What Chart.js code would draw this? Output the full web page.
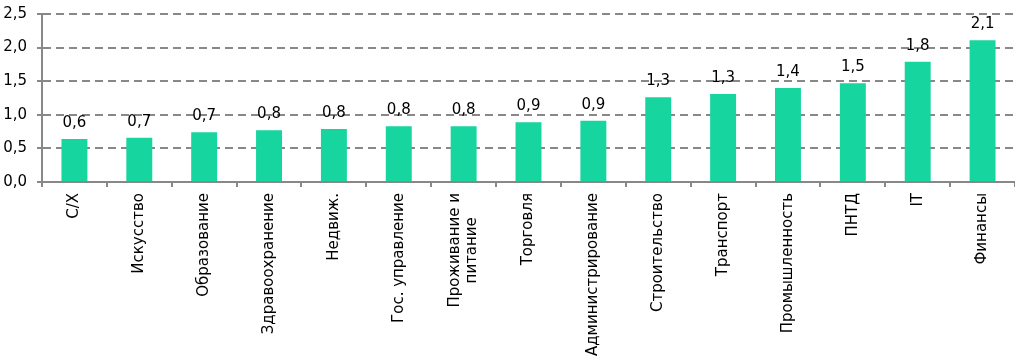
<!DOCTYPE html>
<html lang="ru">
<head>
  <meta charset="UTF-8">
  <title>Отрасли</title>
  <script src="https://cdn.jsdelivr.net/npm/chart.js"></script>
  <style>
    html, body { margin: 0; padding: 0; background: #fff; }
    #box { width: 1015px; height: 362px; }
  </style>
</head>
<body>
  <div id="box"><canvas id="chart"></canvas></div>

  <script>
    // отрасли (подписи по оси X)
    const categories = [
      'С/Х', 'Искусство', 'Образование', 'Здравоохранение', 'Недвиж.',
      'Гос. управление', ['Проживание и', 'питание'], 'Торговля', 'Администрирование',
      'Строительство', 'Транспорт', 'Промышленность', 'ПНТД', 'IT', 'Финансы'
    ];
    const values = [0.64, 0.66, 0.74, 0.77, 0.79, 0.83, 0.83, 0.89, 0.91, 1.26, 1.31, 1.40, 1.47, 1.79, 2.11];
    const yTicks = [0, 0.5, 1.0, 1.5, 2.0, 2.5];

    const FONT = 'DejaVu Sans';
    const fmt = v => v.toFixed(1).replace('.', ',');

    // подписи значений над столбцами + повернутые подписи категорий
    const labelsPlugin = {
      id: 'labels',
      afterDatasetsDraw(chart) {
        const ctx = chart.ctx;
        const meta = chart.getDatasetMeta(0);
        ctx.save();
        ctx.fillStyle = '#000';
        ctx.font = '15px "' + FONT + '"';
        ctx.textAlign = 'center';
        ctx.textBaseline = 'alphabetic';
        meta.data.forEach((bar, i) => {
          ctx.fillText(fmt(values[i]), bar.x, bar.y - 12);
        });
        ctx.restore();

        const xs = chart.scales.x;
        const top = xs.top + 11;
        ctx.save();
        ctx.fillStyle = '#000';
        ctx.font = '15px "' + FONT + '"';
        ctx.textAlign = 'center';
        ctx.textBaseline = 'middle';
        categories.forEach((c, i) => {
          const lines = Array.isArray(c) ? c : [c];
          const w = Math.max(...lines.map(l => ctx.measureText(l).width));
          const x = xs.getPixelForValue(i);
          ctx.save();
          ctx.translate(x, top);
          ctx.rotate(-Math.PI / 2);
          lines.forEach((l, k) => {
            ctx.fillText(l, -w / 2, (k - (lines.length - 1) / 2) * 17);
          });
          ctx.restore();
        });
        ctx.restore();
      }
    };

    new Chart(document.getElementById('chart'), {
      type: 'bar',
      data: {
        labels: categories,
        datasets: [{
          data: values,
          backgroundColor: '#16d59f',
          barPercentage: 0.4,
          categoryPercentage: 1
        }]
      },
      options: {
        responsive: true,
        maintainAspectRatio: false,
        animation: false,
        layout: { padding: { top: 14, right: 0, left: 0, bottom: 0 } },
        plugins: { legend: { display: false }, tooltip: { enabled: false } },
        scales: {
          x: {
            afterFit(scale) { scale.height = 180; },
            grid: {
              display: true,
              offset: true,
              drawOnChartArea: false,
              drawTicks: true,
              tickLength: 5,
              color: '#888',
              lineWidth: 2
            },
            border: { display: true, color: '#888', width: 2 },
            ticks: { display: false }
          },
          y: {
            min: 0,
            max: 2.5,
            afterFit(scale) { scale.width = 42; scale.paddingTop = 0; scale.paddingBottom = 0; },
            afterBuildTicks(scale) { scale.ticks = yTicks.map(v => ({ value: v })); },
            grid: {
              color: '#888',
              lineWidth: 2,
              tickLength: 5
            },
            border: { display: true, color: '#888', width: 2, dash: [8, 5] },
            ticks: {
              color: '#000',
              padding: 10,
              font: { family: FONT, size: 15 },
              callback: v => fmt(v)
            }
          }
        }
      },
      plugins: [labelsPlugin]
    });
  </script>
</body>
</html>
